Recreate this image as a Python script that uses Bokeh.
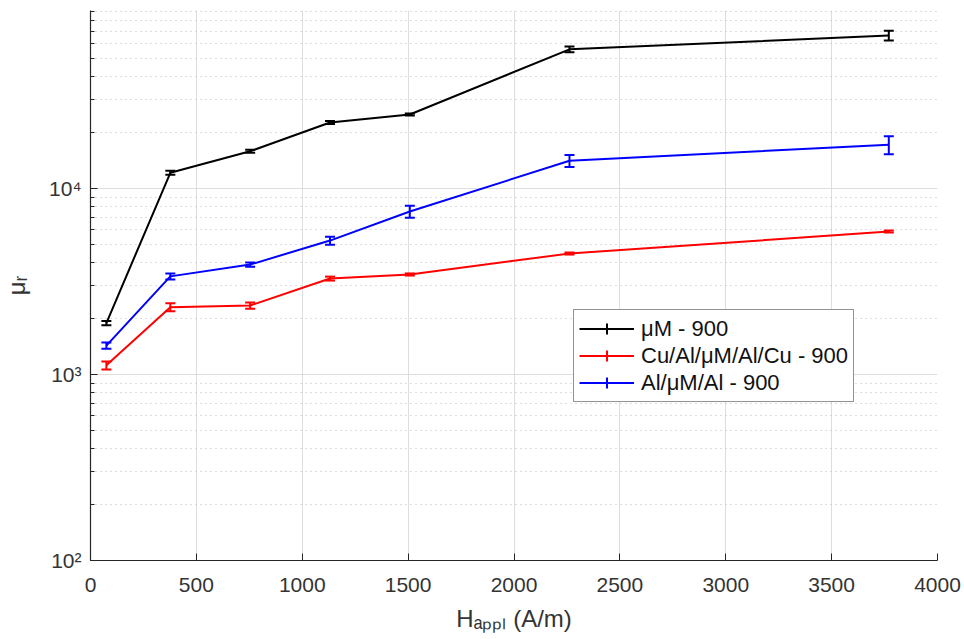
import numpy as np
from bokeh.plotting import figure
from bokeh.models import (ColumnDataSource, Whisker, TeeHead, FixedTicker,
                          Legend, LegendItem, Range1d)
from bokeh.embed import file_html
from bokeh.resources import INLINE

# ---------------- data ----------------
H = [75, 377, 754, 1131, 1508, 2262, 3770]

series_names = ["μM - 900", "Cu/Al/μM/Al/Cu - 900", "Al/μM/Al - 900"]
series_colors = ["#000000", "#ff0000", "#0000ff"]

mu_bare = [1890, 12150, 15850, 22650, 25000, 56000, 66500]
mu_bare_err = [50, 300, 300, 420, 300, 2000, 4000]

mu_cu = [1120, 2300, 2350, 3280, 3450, 4470, 5870]
mu_cu_err = [55, 115, 90, 80, 45, 55, 75]

mu_al = [1430, 3370, 3900, 5250, 7520, 14100, 17200]
mu_al_err = [55, 125, 100, 260, 560, 1050, 1900]

x_ticks = [0, 500, 1000, 1500, 2000, 2500, 3000, 3500, 4000]
y_major = [100, 1000, 10000]
y_tick_labels = ["10²", "10³", "10⁴"]
y_minor = [m * d for d in (100, 1000, 10000) for m in range(2, 10)]

x_label = "Hₐₚₚₗ (A/m)"
y_label = "μᵣ"

TEXT = "#333333"
FONT = "Liberation Sans"

p = figure(width=964, height=639, output_backend="svg", toolbar_location=None,
           x_range=Range1d(0, 4000), y_range=Range1d(100, 90600),
           y_axis_type="log",
           min_border_left=90, min_border_right=27, min_border_top=10,
           min_border_bottom=79)
p.outline_line_color = None
p.background_fill_color = "white"
p.border_fill_color = "white"

# axes
p.xaxis.ticker = FixedTicker(ticks=x_ticks)
p.yaxis.ticker = FixedTicker(ticks=y_major, minor_ticks=y_minor)
for ax in (p.xaxis[0], p.yaxis[0]):
    ax.axis_line_color = "#262626"
    ax.axis_line_width = 1.2
    ax.major_tick_line_color = "#262626"
    ax.major_tick_in = 7
    ax.major_tick_out = 0
    ax.minor_tick_in = 4
    ax.minor_tick_out = 0
    ax.minor_tick_line_color = "#262626"
    ax.major_label_text_font = FONT
    ax.major_label_text_font_size = "21px"
    ax.major_label_text_color = TEXT
    ax.axis_label_text_font = FONT
    ax.axis_label_text_font_size = "24px"
    ax.axis_label_text_font_style = "normal"
    ax.axis_label_text_color = TEXT
p.xaxis.minor_tick_line_color = None
p.xaxis.major_label_standoff = 17
p.xaxis.axis_label = x_label
p.xaxis.axis_label_standoff = 10
p.yaxis.major_label_overrides = dict(zip(y_major, y_tick_labels))
p.yaxis.major_label_standoff = 9
p.yaxis.axis_label = y_label
p.yaxis.axis_label_standoff = 16

# grid
p.xgrid.ticker = FixedTicker(ticks=x_ticks)
p.xgrid.grid_line_color = "#dedede"
p.ygrid.grid_line_color = "#dedede"
p.ygrid.minor_grid_line_color = "#bdbdbd"
p.ygrid.minor_grid_line_dash = "1 4"
p.ygrid.minor_grid_line_width = 1

# series
items = []
for name, ys, err, col in zip(series_names,
                              (mu_bare, mu_cu, mu_al),
                              (mu_bare_err, mu_cu_err, mu_al_err),
                              series_colors):
    ys = np.array(ys, dtype=float)
    e = np.array(err, dtype=float)
    src = ColumnDataSource(data=dict(x=H, y=ys, upper=ys + e, lower=ys - e))
    r = p.line("x", "y", source=src, line_color=col, line_width=2)
    w = Whisker(base="x", upper="upper", lower="lower", source=src,
                dimension="height", line_color=col, line_width=2,
                upper_head=TeeHead(size=10, line_color=col, line_width=2),
                lower_head=TeeHead(size=10, line_color=col, line_width=2))
    p.add_layout(w)
    # legend-only error-bar symbol (a single NaN point: nothing drawn in the plot)
    bar = p.scatter(x=[float("nan")], y=[float("nan")], marker="cross",
                    size=12, line_color=col, line_width=2)
    items.append(LegendItem(label=name, renderers=[r, bar]))

legend = Legend(items=items, location=(483, 158))
legend.label_text_font = FONT
legend.label_text_font_size = "22px"
legend.label_text_color = "#111111"
legend.glyph_width = 55
legend.glyph_height = 27
legend.label_height = 27
legend.spacing = 0
legend.padding = 5
legend.margin = 0
legend.label_standoff = 7
legend.border_line_color = "#262626"
legend.border_line_width = 1
legend.background_fill_alpha = 1
p.add_layout(legend)

open("out.html", "w").write(file_html(p, INLINE))
